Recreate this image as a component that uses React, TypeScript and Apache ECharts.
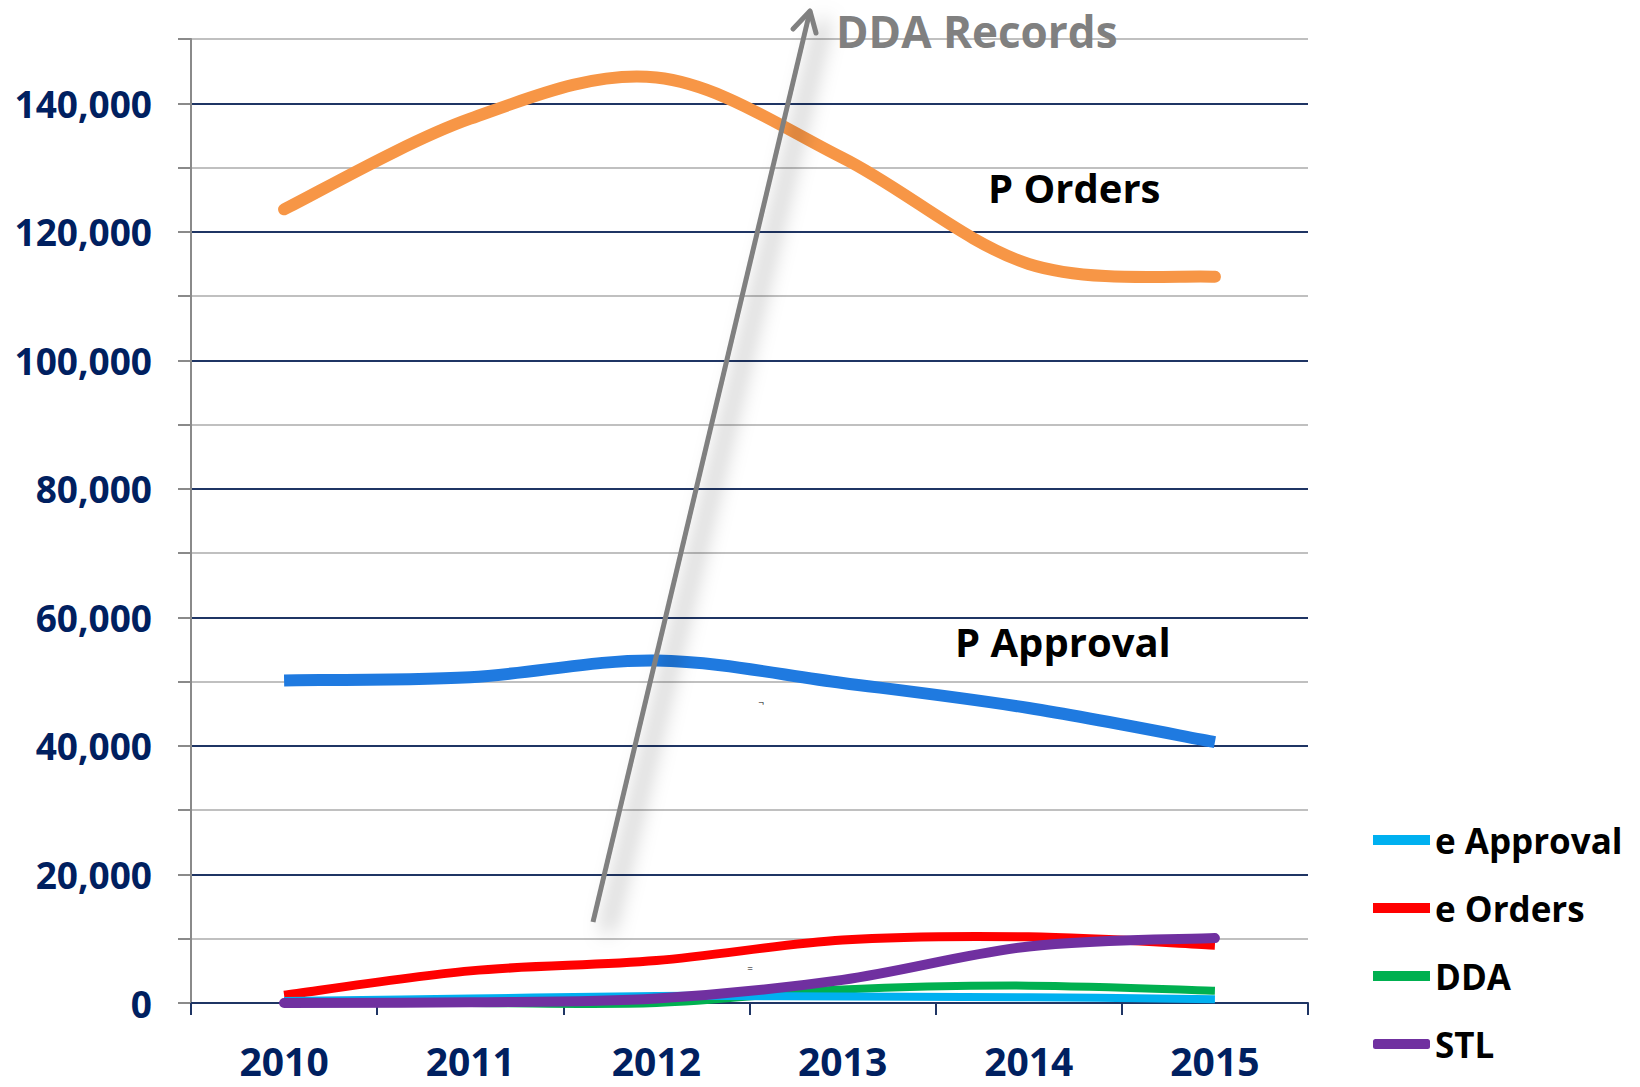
import React, { useEffect, useRef } from "react";
import * as echarts from "echarts";

const years = ["2010", "2011", "2012", "2013", "2014", "2015"];
const pOrders = [123500, 137600, 144000, 131500, 115000, 113000];
const pApproval = [50200, 50700, 53300, 49800, 45900, 40600];
const eOrders = [1200, 5000, 6600, 9800, 10300, 9000];
const stl = [0, 100, 700, 3600, 8800, 10100];
const dda = [0, 0, 0, 2100, 2700, 1900];
const eApproval = [300, 700, 1100, 1000, 900, 600];
const legendNames = ["e Approval", "e Orders", "DDA", "STL"];

const FONT = "'Open Sans', 'Liberation Sans', sans-serif";
const NAVY = "#1f3564";

// Excel-like smoothed line (Catmull-Rom converted to cubic Bezier)
function smoothPath(pts: number[][]): string {
  let d = `M${pts[0][0]},${pts[0][1]}`;
  for (let i = 0; i < pts.length - 1; i++) {
    const p0 = pts[i - 1] || pts[i];
    const p1 = pts[i];
    const p2 = pts[i + 1];
    const p3 = pts[i + 2] || p2;
    const c1x = p1[0] + (p2[0] - p0[0]) / 6;
    const c1y = p1[1] + (p2[1] - p0[1]) / 6;
    const c2x = p2[0] - (p3[0] - p1[0]) / 6;
    const c2y = p2[1] - (p3[1] - p1[1]) / 6;
    d += ` C${c1x},${c1y} ${c2x},${c2y} ${p2[0]},${p2[1]}`;
  }
  return d;
}

export default function App() {
  const ref = useRef<HTMLDivElement>(null);
  useEffect(() => {
    if (!ref.current) return;
    const chart = echarts.init(ref.current, null, { renderer: "svg" });
    const mk = (name: string, values: number[], color: string, width: number, cap: string) => ({
      name,
      type: "custom",
      data: values.map((v, i) => [i, v]),
      encode: { x: 0, y: 1 },
      itemStyle: { color },
      renderItem: (params: any, api: any) => {
        if (params.dataIndex !== 0) return null;
        const pts = values.map((v, i) => api.coord([i, v]));
        return {
          type: "path",
          shape: { pathData: smoothPath(pts) },
          style: { stroke: color, lineWidth: width, fill: "none", lineCap: cap, lineJoin: "round" },
        };
      },
      emphasis: { disabled: true },
    });
    chart.setOption({
      animation: false,
      grid: { left: 191, right: 332, top: 39, bottom: 84 },
      legend: {
        orient: "vertical",
        left: 1373,
        top: 820,
        padding: 0,
        itemWidth: 57,
        itemHeight: 10,
        itemGap: 28,
        textStyle: { fontFamily: FONT, fontWeight: "bold", fontSize: 35, color: "#000", lineHeight: 40 },
        data: legendNames.map((n) => ({ name: n, icon: n === "STL" ? "roundRect" : "rect" })),
      },
      xAxis: {
        type: "category",
        data: years,
        boundaryGap: true,
        axisLine: { show: true, lineStyle: { color: NAVY, width: 2 } },
        axisTick: { show: true, length: 12, lineStyle: { color: NAVY, width: 2 } },
        axisLabel: { margin: 39, lineHeight: 36, fontFamily: FONT, fontWeight: "bold", fontSize: 39, color: "#002060" },
        splitLine: { show: false },
      },
      yAxis: {
        type: "value",
        min: 0,
        max: 150000,
        interval: 10000,
        axisLine: { show: true, lineStyle: { color: "#8a8a8a", width: 2 } },
        axisTick: { show: true, length: 13, lineStyle: { color: "#8a8a8a", width: 2 } },
        axisLabel: {
          margin: 39,
          fontFamily: FONT,
          fontWeight: "bold",
          fontSize: 37,
          color: "#002060",
          formatter: (v: number) => (v % 20000 === 0 ? v.toLocaleString("en-US") : ""),
        },
        splitLine: { show: true, lineStyle: { color: [NAVY, "#c0c0c0"], width: 2 } },
      },
      series: [
        mk("P Orders", pOrders, "#f79646", 12, "round"),
        mk("P Approval", pApproval, "#1f7ae0", 12, "butt"),
        mk("e Orders", eOrders, "#ff0000", 9, "butt"),
        mk("DDA", dda, "#00b050", 8, "butt"),
        mk("e Approval", eApproval, "#00b0f0", 8, "butt"),
        mk("STL", stl, "#7030a0", 10, "round"),
      ],
      graphic: [
        {
          type: "line",
          shape: { x1: 593, y1: 922, x2: 810, y2: 11 },
          style: {
            stroke: "#808080",
            lineWidth: 5,
            shadowBlur: 20,
            shadowOffsetX: 14,
            shadowOffsetY: 10,
            shadowColor: "rgba(0,0,0,0.5)",
          },
          z: 10,
        },
        {
          type: "polyline",
          shape: { points: [[793, 29], [810, 11], [816, 33]] },
          style: { stroke: "#808080", lineWidth: 5, fill: null, lineCap: "round", lineJoin: "round" },
          z: 10,
        },
        {
          type: "text",
          x: 836,
          y: 31,
          style: { text: "DDA Records", fontFamily: FONT, fontWeight: "bold", fontSize: 44, fill: "#808080", textVerticalAlign: "middle" },
          z: 11,
        },
        {
          type: "text",
          x: 988,
          y: 187,
          style: { text: "P Orders", fontFamily: FONT, fontWeight: "bold", fontSize: 40, fill: "#000", textVerticalAlign: "middle" },
          z: 11,
        },
        {
          type: "text",
          x: 955,
          y: 641,
          style: { text: "P Approval", fontFamily: FONT, fontWeight: "bold", fontSize: 40, fill: "#000", textVerticalAlign: "middle" },
          z: 11,
        },
        {
          type: "text",
          x: 750,
          y: 968,
          style: { text: "=", fontFamily: FONT, fontSize: 10, fill: "#000", textAlign: "center", textVerticalAlign: "middle" },
          z: 11,
        },
        {
          type: "text",
          x: 761,
          y: 702,
          style: { text: "¬", fontFamily: FONT, fontSize: 10, fill: "#000", textAlign: "center", textVerticalAlign: "middle" },
          z: 11,
        },
      ],
    });
    return () => chart.dispose();
  }, []);
  return <div ref={ref} style={{ position: "absolute", left: 0, top: 0, width: 1640, height: 1087, background: "#fff" }} />;
}
